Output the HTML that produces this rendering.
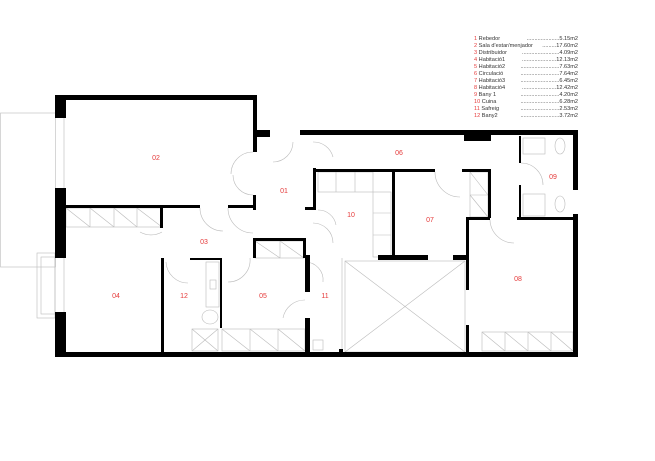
<!DOCTYPE html>
<html><head><meta charset="utf-8"><style>
html,body{margin:0;padding:0;background:#fff;}
svg{display:block;font-family:"Liberation Sans",sans-serif;}
.l{font-size:5.6px;fill:#333;}
.v{text-anchor:end;}
.n{fill:#e53a3a;}
.r{font-size:7px;fill:#e53a3a;text-anchor:middle;}
.t{stroke:#bbb;stroke-width:0.6;fill:none;}
</style></head><body>
<svg width="655" height="461" viewBox="0 0 655 461" xmlns="http://www.w3.org/2000/svg">
<rect width="655" height="461" fill="#fff"/>
<!-- legend -->
<g class="l">
<text x="474" y="40"><tspan class="n">1 </tspan>Rebedor</text><text x="578" y="40" class="v">.....................5.15m2</text>
<text x="474" y="47"><tspan class="n">2 </tspan>Sala d'estar/menjador</text><text x="578" y="47" class="v">.........17.60m2</text>
<text x="474" y="54"><tspan class="n">3 </tspan>Distribuidor</text><text x="578" y="54" class="v">........................4.09m2</text>
<text x="474" y="61"><tspan class="n">4 </tspan>Habitació1</text><text x="578" y="61" class="v">......................12.13m2</text>
<text x="474" y="68"><tspan class="n">5 </tspan>Habitació2</text><text x="578" y="68" class="v">.........................7.63m2</text>
<text x="474" y="75"><tspan class="n">6 </tspan>Circulació</text><text x="578" y="75" class="v">.........................7.64m2</text>
<text x="474" y="82"><tspan class="n">7 </tspan>Habitació3</text><text x="578" y="82" class="v">.........................6.45m2</text>
<text x="474" y="89"><tspan class="n">8 </tspan>Habitació4</text><text x="578" y="89" class="v">......................12.42m2</text>
<text x="474" y="96"><tspan class="n">9 </tspan>Bany 1</text><text x="578" y="96" class="v">.........................4.20m2</text>
<text x="474" y="103"><tspan class="n">10 </tspan>Cuina</text><text x="578" y="103" class="v">.........................6.28m2</text>
<text x="474" y="110"><tspan class="n">11 </tspan>Safreig</text><text x="578" y="110" class="v">.........................2.53m2</text>
<text x="474" y="117"><tspan class="n">12 </tspan>Bany2</text><text x="578" y="117" class="v">.........................3.72m2</text>
</g>
<!-- balcony / thin elements -->
<rect x="0.5" y="113" width="55" height="154" class="t"/>
<rect x="37" y="253" width="18" height="65" class="t"/>
<rect x="41" y="257" width="14" height="57" class="t"/>
<line x1="64" y1="118" x2="64" y2="188" class="t"/>
<line x1="64" y1="258" x2="64" y2="312" class="t"/>
<!-- void -->
<rect x="345" y="261" width="120" height="91" class="t"/>
<line x1="345" y1="261" x2="465" y2="352" class="t"/>
<line x1="465" y1="261" x2="345" y2="352" class="t"/>
<line x1="342" y1="258" x2="342" y2="352" class="t"/>
<!-- closets -->
<g class="t">
<rect x="66" y="208" width="96" height="19"/>
<line x1="90" y1="208" x2="90" y2="227"/><line x1="114" y1="208" x2="114" y2="227"/><line x1="137" y1="208" x2="137" y2="227"/>
<line x1="66" y1="208" x2="90" y2="227"/><line x1="90" y1="208" x2="114" y2="227"/><line x1="114" y1="208" x2="137" y2="227"/><line x1="137" y1="208" x2="162" y2="227"/>
<rect x="255" y="241" width="49" height="17"/><line x1="280" y1="241" x2="280" y2="258"/>
<line x1="255" y1="241" x2="280" y2="258"/><line x1="280" y1="241" x2="304" y2="258"/>
<rect x="222" y="329" width="83" height="22"/><line x1="250" y1="329" x2="250" y2="351"/><line x1="278" y1="329" x2="278" y2="351"/>
<line x1="222" y1="329" x2="250" y2="351"/><line x1="250" y1="329" x2="278" y2="351"/><line x1="278" y1="329" x2="305" y2="351"/>
<rect x="192" y="329" width="26" height="22"/><line x1="192" y1="329" x2="218" y2="351"/><line x1="218" y1="329" x2="192" y2="351"/>
<rect x="482" y="332" width="91" height="19"/><line x1="505" y1="332" x2="505" y2="351"/><line x1="528" y1="332" x2="528" y2="351"/><line x1="551" y1="332" x2="551" y2="351"/>
<line x1="482" y1="332" x2="505" y2="351"/><line x1="505" y1="332" x2="528" y2="351"/><line x1="528" y1="332" x2="551" y2="351"/><line x1="551" y1="332" x2="573" y2="351"/>
<rect x="470" y="172" width="18" height="45"/><line x1="470" y1="195" x2="488" y2="195"/><line x1="470" y1="172" x2="488" y2="195"/><line x1="470" y1="195" x2="488" y2="217"/>
<rect x="318" y="172" width="55" height="20"/><line x1="336" y1="172" x2="336" y2="192"/><line x1="355" y1="172" x2="355" y2="192"/>
<rect x="373" y="192" width="18" height="65"/><line x1="373" y1="213" x2="391" y2="213"/><line x1="373" y1="235" x2="391" y2="235"/>
<rect x="206" y="262" width="13" height="45"/><rect x="210" y="280" width="6" height="9"/>
<ellipse cx="210" cy="317" rx="8" ry="7"/>
<rect x="523" y="138" width="22" height="16"/><ellipse cx="560" cy="146" rx="5" ry="8"/>
<rect x="523" y="194" width="22" height="22"/><ellipse cx="560" cy="204" rx="5" ry="8"/>
<rect x="313" y="340" width="10" height="10"/>
<!-- door arcs -->
<path d="M253 152 A22 22 0 0 0 231 174"/><path d="M253 195 A20 20 0 0 1 233 175"/>
<path d="M273 162 A20 20 0 0 0 293 142"/><path d="M313 142 A20 20 0 0 1 333 157"/>
<path d="M200 208 A23 23 0 0 0 223 231"/><path d="M228 208 A25 25 0 0 0 253 233"/>
<path d="M162 232 A22 22 0 0 1 140 232"/><path d="M166 262 A22 22 0 0 0 188 283"/>
<path d="M250 258 A22 22 0 0 1 228 282"/><path d="M305 300 A22 22 0 0 0 283 318"/>
<path d="M305 262 A18 18 0 0 1 323 282"/><path d="M318 210 A18 18 0 0 1 336 225"/>
<path d="M435 172 A25 25 0 0 0 460 197"/><path d="M490 220 A24 24 0 0 0 514 243"/>
<path d="M521 163 A22 22 0 0 1 543 185"/><path d="M313 223 A20 20 0 0 1 333 243"/>
</g>
<!-- walls -->
<g fill="#000">
<rect x="55" y="95" width="202" height="5"/>
<rect x="55" y="95" width="11" height="23"/>
<rect x="55" y="188" width="11" height="70"/>
<rect x="55" y="312" width="11" height="45"/>
<rect x="55" y="352" width="523" height="5"/>
<rect x="253" y="95" width="4" height="57"/>
<rect x="255" y="130" width="15" height="7"/>
<rect x="300" y="130" width="277" height="5"/>
<rect x="573" y="130" width="5" height="60"/>
<rect x="573" y="214" width="5" height="143"/>
<rect x="464" y="130" width="27" height="11"/>
<rect x="66" y="205" width="134" height="3"/>
<rect x="228" y="205" width="25" height="3"/>
<rect x="253" y="195" width="3" height="15"/>
<rect x="160" y="208" width="3" height="20"/>
<rect x="161" y="258" width="3" height="94"/>
<rect x="190" y="258" width="32" height="2"/>
<rect x="220" y="258" width="2" height="70"/>
<rect x="253" y="238" width="52" height="3"/>
<rect x="253" y="238" width="3" height="20"/>
<rect x="303" y="238" width="3" height="20"/>
<rect x="305" y="255" width="5" height="37"/>
<rect x="305" y="318" width="5" height="34"/>
<rect x="313" y="168" width="3" height="42"/>
<rect x="305" y="207" width="11" height="3"/>
<rect x="315" y="169" width="120" height="3"/>
<rect x="462" y="169" width="29" height="3"/>
<rect x="488" y="169" width="3" height="49"/>
<rect x="392" y="170" width="3" height="88"/>
<rect x="378" y="255" width="50" height="5"/>
<rect x="453" y="255" width="16" height="5"/>
<rect x="466" y="217" width="3" height="73"/>
<rect x="466" y="325" width="3" height="27"/>
<rect x="466" y="217" width="24" height="3"/>
<rect x="517" y="217" width="60" height="3"/>
<rect x="519" y="136" width="2" height="27"/>
<rect x="519" y="185" width="2" height="33"/>
<rect x="339" y="349" width="4" height="4"/>
</g>
<!-- room labels -->
<g class="r">
<text x="156" y="160">02</text><text x="284" y="193">01</text><text x="204" y="244">03</text>
<text x="116" y="298">04</text><text x="184" y="298">12</text><text x="263" y="298">05</text>
<text x="325" y="298">11</text><text x="399" y="155">06</text><text x="351" y="217">10</text>
<text x="430" y="222">07</text><text x="518" y="281">08</text><text x="553" y="179">09</text>
</g>
</svg>
</body></html>
